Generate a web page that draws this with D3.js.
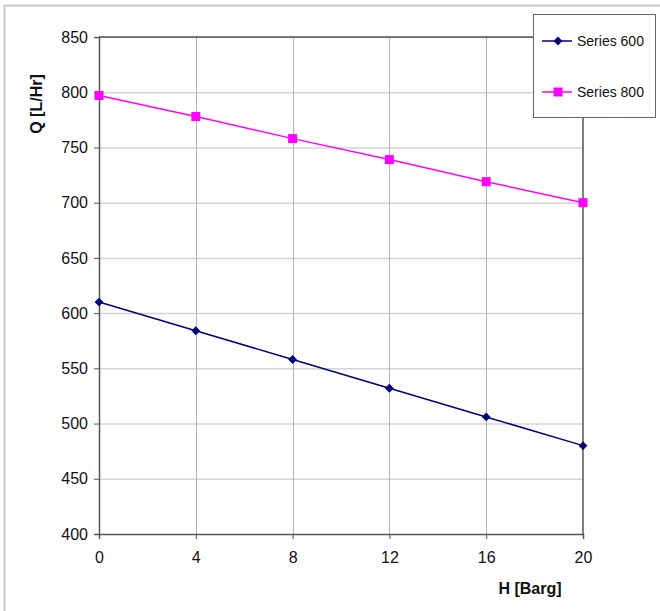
<!DOCTYPE html>
<html>
<head>
<meta charset="utf-8">
<script src="https://cdn.jsdelivr.net/npm/d3@7"></script>
<style>
  body { margin: 0; background: #fff; }
  svg { font-family: "Liberation Sans", Arial, sans-serif; }
</style>
</head>
<body>
<svg id="chart" width="660" height="611"></svg>
<script>
var pressures = [0, 4, 8, 12, 16, 20];
var series600 = [610, 584, 558, 532, 506, 480];
var series800 = [797, 778, 758, 739, 719, 700];
var seriesNames = ["Series 600", "Series 800"];
var xTicks = [0, 4, 8, 12, 16, 20];
var yTicks = [400, 450, 500, 550, 600, 650, 700, 750, 800, 850];

var svg = d3.select("#chart");

// outer frame (left and top only are visible)
svg.append("line").attr("x1", 4.5).attr("x2", 4.5).attr("y1", 5).attr("y2", 611)
    .attr("stroke", "#c8c8c8").attr("stroke-width", 2);
svg.append("line").attr("x1", 4).attr("x2", 660).attr("y1", 5.5).attr("y2", 5.5)
    .attr("stroke", "#c8c8c8").attr("stroke-width", 2);

var plotLeft = 99, plotTop = 37, plotRight = 583, plotBottom = 534;

var x = d3.scaleLinear().domain([0, 20]).range([plotLeft, plotRight]);
var y = d3.scaleLinear().domain([400, 850]).range([plotBottom, plotTop]);

// gridlines
svg.append("g").selectAll("line").data(yTicks.slice(1)).enter().append("line")
    .attr("x1", plotLeft).attr("x2", plotRight)
    .attr("y1", function (d) { return y(d) + 0.5; })
    .attr("y2", function (d) { return y(d) + 0.5; })
    .attr("stroke", "#d4d4d4").attr("stroke-width", 1.5);
svg.append("g").selectAll("line").data(xTicks.slice(1, -1)).enter().append("line")
    .attr("x1", function (d) { return Math.round(x(d)) + 0.5; })
    .attr("x2", function (d) { return Math.round(x(d)) + 0.5; })
    .attr("y1", plotTop).attr("y2", plotBottom)
    .attr("stroke", "#b4b4b4").attr("stroke-width", 1);

// axes
var yAxis = svg.append("g")
    .attr("transform", "translate(" + plotLeft + ",0)")
    .call(d3.axisLeft(y).tickValues(yTicks).tickSize(5).tickPadding(6));
var xAxis = svg.append("g")
    .attr("transform", "translate(0," + plotBottom + ")")
    .call(d3.axisBottom(x).tickValues(xTicks).tickSize(5).tickPadding(13));

[xAxis, yAxis].forEach(function (g) {
    g.select(".domain").attr("stroke", "#555").attr("stroke-width", 1.5);
    g.selectAll(".tick line").attr("stroke", "#555");
    g.selectAll(".tick text").attr("font-size", "16px").attr("fill", "#111")
        .style("font-family", "Liberation Sans, Arial, sans-serif");
});
// right and top border of plot
svg.append("line").attr("x1", plotRight).attr("x2", plotRight).attr("y1", plotTop).attr("y2", plotBottom)
    .attr("stroke", "#555").attr("stroke-width", 1.5);
svg.append("line").attr("x1", plotLeft).attr("x2", plotRight).attr("y1", plotTop).attr("y2", plotTop)
    .attr("stroke", "#555").attr("stroke-width", 1.5);

// axis titles
svg.append("text")
    .attr("x", 530).attr("y", 594)
    .attr("text-anchor", "middle")
    .attr("font-size", "16px").attr("font-weight", "bold").attr("fill", "#111")
    .text("H [Barg]");
svg.append("text")
    .attr("transform", "translate(42,104) rotate(-90)")
    .attr("text-anchor", "middle")
    .attr("font-size", "16px").attr("font-weight", "bold").attr("fill", "#111")
    .text("Q [L/Hr]");

var line = d3.line()
    .x(function (d) { return x(d[0]); })
    .y(function (d) { return y(d[1]); });

var colors = ["#000080", "#ff00ff"];
var data600 = pressures.map(function (p, i) { return [p, series600[i]]; });
var data800 = pressures.map(function (p, i) { return [p, series800[i]]; });

svg.append("path").datum(data600).attr("d", line)
    .attr("fill", "none").attr("stroke", colors[0]).attr("stroke-width", 1.5);
svg.append("path").datum(data800).attr("d", line)
    .attr("fill", "none").attr("stroke", colors[1]).attr("stroke-width", 1.5);

var diamond = d3.symbol().type(d3.symbolDiamond2).size(50);
svg.append("g").selectAll("path").data(data600).enter().append("path")
    .attr("d", diamond)
    .attr("transform", function (d) { return "translate(" + x(d[0]) + "," + y(d[1]) + ")"; })
    .attr("fill", colors[0]);

svg.append("g").selectAll("rect").data(data800).enter().append("rect")
    .attr("x", function (d) { return x(d[0]) - 4.5; })
    .attr("y", function (d) { return y(d[1]) - 4.5; })
    .attr("width", 9).attr("height", 9)
    .attr("fill", colors[1]);

// legend
var legend = svg.append("g");
legend.append("rect")
    .attr("x", 533.5).attr("y", 14.5).attr("width", 122).attr("height", 103)
    .attr("fill", "#fff").attr("stroke", "#666").attr("stroke-width", 1);
var legendY = [41, 92];
seriesNames.forEach(function (name, i) {
    legend.append("line")
        .attr("x1", 542).attr("x2", 572).attr("y1", legendY[i]).attr("y2", legendY[i])
        .attr("stroke", colors[i]).attr("stroke-width", 1.5);
    if (i === 0) {
        legend.append("path").attr("d", diamond)
            .attr("transform", "translate(558," + legendY[i] + ")")
            .attr("fill", colors[i]);
    } else {
        legend.append("rect")
            .attr("x", 553.5).attr("y", legendY[i] - 4.5).attr("width", 9).attr("height", 9)
            .attr("fill", colors[i]);
    }
    legend.append("text")
        .attr("x", 577).attr("y", legendY[i] + 5)
        .attr("font-size", "14px").attr("fill", "#111")
        .text(name);
});
</script>
</body>
</html>
